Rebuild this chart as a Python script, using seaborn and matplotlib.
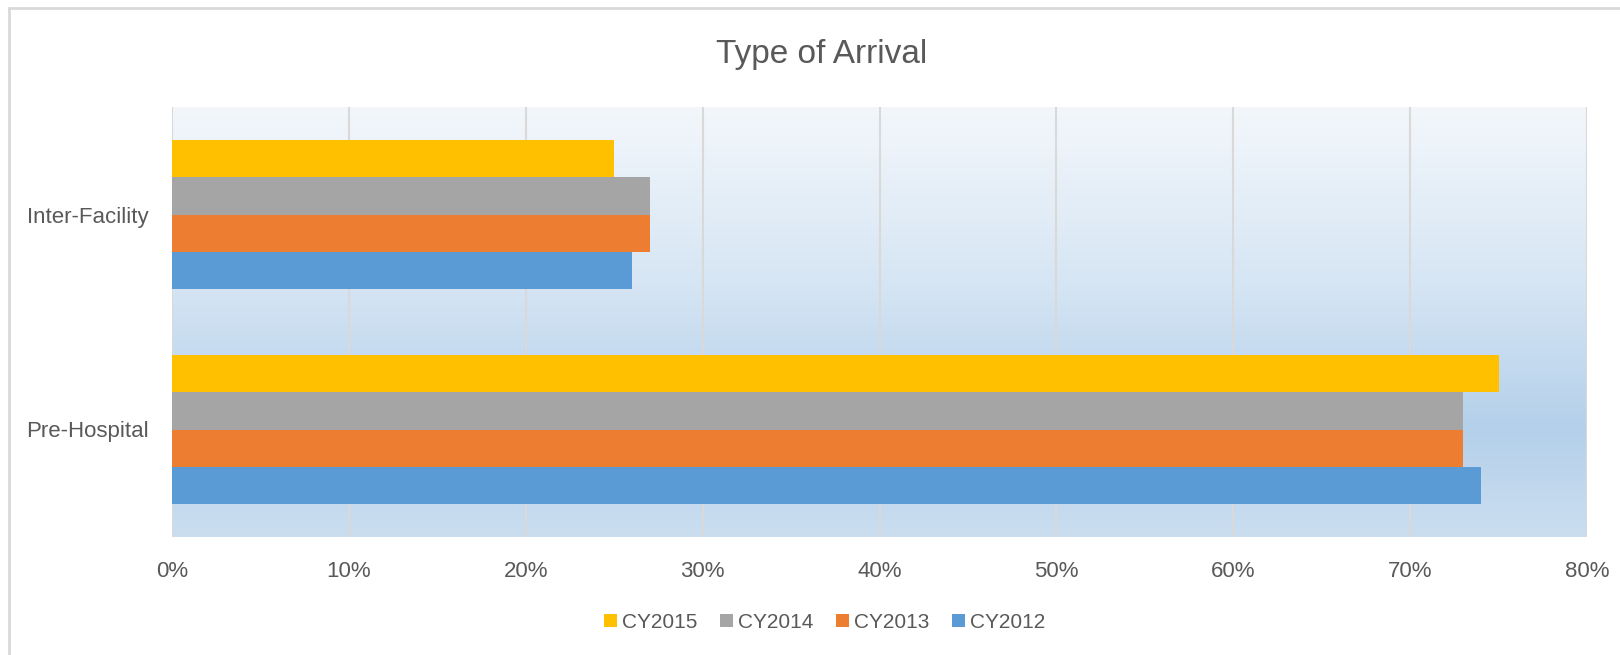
import numpy as np
import pandas as pd
import matplotlib
matplotlib.use('Agg')
import matplotlib.pyplot as plt
import seaborn as sns
from matplotlib.colors import LinearSegmentedColormap
from matplotlib.lines import Line2D

categories = ['Inter-Facility', 'Pre-Hospital']
years = ['CY2015', 'CY2014', 'CY2013', 'CY2012']
cy2015 = [25, 75]
cy2014 = [27, 73]
cy2013 = [27, 73]
cy2012 = [26, 74]
x_ticks = [0, 10, 20, 30, 40, 50, 60, 70, 80]

colors = {'CY2015': '#FFC000', 'CY2014': '#A5A5A5', 'CY2013': '#ED7D31', 'CY2012': '#5B9BD5'}
txt_col = '#595959'

sns.set_theme(style='white')
plt.rcParams['font.family'] = ['Liberation Sans', 'DejaVu Sans']

rows = []
for yr, vals in zip(years, [cy2015, cy2014, cy2013, cy2012]):
    for cat, v in zip(categories, vals):
        rows.append([cat, yr, v])
df = pd.DataFrame(rows, columns=['type', 'year', 'pct'])

W, H = 1620, 655
fig = plt.figure(figsize=(W / 100, H / 100), dpi=100)
ax = fig.add_axes([172 / W, 1 - 537 / H, (1587 - 172) / W, (537 - 107) / H])

sns.barplot(data=df, x='pct', y='type', hue='year', order=categories, hue_order=years,
            palette=colors, orient='h', width=0.69, saturation=1, linewidth=0, ax=ax)

# gradient fill of the plot area
grad = np.linspace(0, 1, 256).reshape(-1, 1)
cmap = LinearSegmentedColormap.from_list('bg', [(0, '#F3F7FB'), (0.4, '#D7E6F4'),
                                                (0.75, '#B4D0EA'), (1, '#CBDEF0')])
ax.imshow(grad, extent=[0, 1, 0, 1], transform=ax.transAxes, aspect='auto', cmap=cmap, zorder=0)

ax.set_xlim(0, 80)
ax.set_ylim(1.5, -0.5)
ax.set_xticks(x_ticks)
ax.set_xticklabels([f'{t}%' for t in x_ticks])
ax.set_axisbelow(True)
ax.xaxis.grid(True, color='#D9D9D9', linewidth=1.5, zorder=0.5)
ax.yaxis.grid(False)
for s in ax.spines.values():
    s.set_visible(False)
ax.tick_params(axis='both', length=0, labelsize=16, labelcolor=txt_col)
ax.tick_params(axis='x', pad=17)
ax.tick_params(axis='y', pad=17)
ax.set_xlabel('')
ax.set_ylabel('')

handles, labels = ax.get_legend_handles_labels()
ax.get_legend().remove()
fig.legend(handles, labels, loc='center', bbox_to_anchor=(0.509, 1 - 622 / H), ncol=4,
           frameon=False, fontsize=15, handlelength=0.6, handleheight=0.6,
           handletextpad=0.25, columnspacing=1.1, labelcolor=txt_col)

fig.text(0.507, 1 - 54 / H, 'Type of Arrival', ha='center', va='center', fontsize=24, color=txt_col)

# chart area border
fig.add_artist(Line2D([9 / W, 9 / W], [0, 1 - 8 / H], color='#D9D9D9', lw=2, transform=fig.transFigure))
fig.add_artist(Line2D([9 / W, 1], [1 - 8 / H, 1 - 8 / H], color='#D9D9D9', lw=2, transform=fig.transFigure))

fig.savefig('out.png', dpi=100, facecolor='white')
